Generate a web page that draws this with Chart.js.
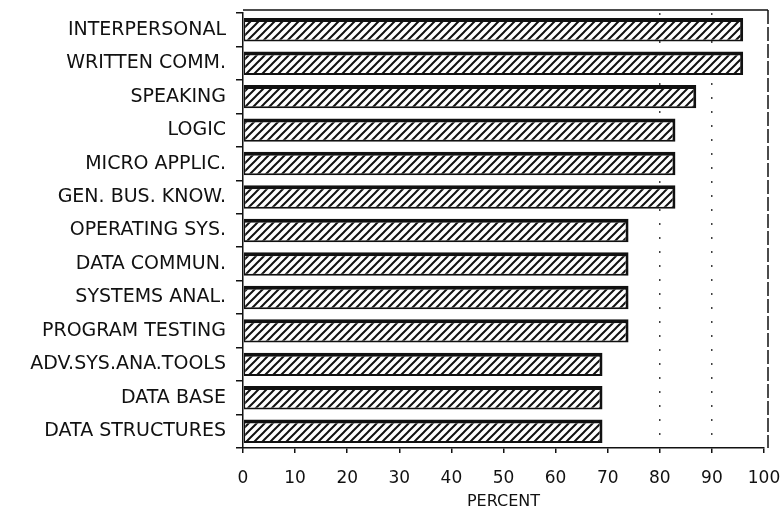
<!DOCTYPE html>
<html>
<head>
<meta charset="utf-8">
<script src="https://cdn.jsdelivr.net/npm/chart.js@4/dist/chart.umd.min.js"></script>
<style>
html,body{margin:0;padding:0;background:#fff;}
#wrap{width:784px;height:516px;}
</style>
</head>
<body>
<div id="wrap"><canvas id="c" width="784" height="516"></canvas></div>
<script>
const categories = ["INTERPERSONAL","WRITTEN COMM.","SPEAKING","LOGIC","MICRO APPLIC.","GEN. BUS. KNOW.","OPERATING SYS.","DATA COMMUN.","SYSTEMS ANAL.","PROGRAM TESTING","ADV.SYS.ANA.TOOLS","DATA BASE","DATA STRUCTURES"];
const percentValues = [96, 96, 87, 83, 83, 83, 74, 74, 74, 74, 69, 69, 69];
const xTickValues = [0,10,20,30,40,50,60,70,80,90,100];

function makeHatch(){
  const s = 8;
  const p = document.createElement('canvas');
  p.width = s; p.height = s;
  const g = p.getContext('2d');
  g.fillStyle = '#fff'; g.fillRect(0,0,s,s);
  g.strokeStyle = '#111'; g.lineWidth = 2; g.lineCap = 'butt';
  g.beginPath();
  g.moveTo(0,s); g.lineTo(s,0);
  g.moveTo(-s/2,s/2); g.lineTo(s/2,-s/2);
  g.moveTo(s/2,s*1.5); g.lineTo(s*1.5,s/2);
  g.stroke();
  return document.getElementById('c').getContext('2d').createPattern(p,'repeat');
}

const framePlugin = {
  id:'frame',
  afterDraw(chart){
    const {ctx, chartArea:a} = chart;
    ctx.save();
    ctx.strokeStyle = '#111';
    ctx.lineWidth = 1.5;
    ctx.beginPath();
    ctx.moveTo(a.left, a.top - 3); ctx.lineTo(a.right + 4, a.top - 3);
    ctx.stroke();
    ctx.setLineDash([14,3]);
    ctx.beginPath();
    ctx.moveTo(a.right + 4, a.top - 3); ctx.lineTo(a.right + 4, a.bottom);
    ctx.stroke();
    ctx.restore();
  }
};

const font = "'DejaVu Sans',sans-serif";

new Chart(document.getElementById('c'), {
  type:'bar',
  data:{
    labels: categories,
    datasets:[{
      data: percentValues,
      backgroundColor: makeHatch(),
      borderColor:'#111',
      borderWidth:{top:4,right:3,bottom:2,left:1.5},
      borderSkipped:false,
      barPercentage:0.7,
      categoryPercentage:1
    }]
  },
  options:{
    indexAxis:'y',
    responsive:false,
    animation:false,
    layout:{padding:{top:13,right:20,bottom:5,left:0}},
    plugins:{legend:{display:false},tooltip:{enabled:false}},
    scales:{
      x:{
        min:0,max:100,
        afterBuildTicks(axis){ axis.ticks = xTickValues.map(v=>({value:v})); },
        afterFit(axis){ axis.paddingLeft = 0; axis.paddingRight = 0; axis.height = 63; },
        grid:{
          drawOnChartArea:true,
          color:(c)=> (c.tick && (c.tick.value===80 || c.tick.value===90)) ? 'rgba(0,0,0,0.75)' : 'rgba(0,0,0,0)',
          lineWidth:1.5,
          tickLength:5,
          tickColor:'#111'
        },
        border:{display:true,color:'#111',width:1.5,dash:[2,12]},
        ticks:{color:'#111',font:{family:font,size:17},padding:15,maxRotation:0},
        title:{display:true,text:'PERCENT',color:'#111',font:{family:font,size:16},padding:{top:0,bottom:0}}
      },
      y:{
        offset:true,
        afterFit(axis){ axis.width = 243; axis.paddingTop = 0; axis.paddingBottom = 0; },
        grid:{offset:true,drawOnChartArea:false,tickLength:7,color:'#111',lineWidth:1.5},
        border:{display:true,color:'#111',width:1.5},
        ticks:{color:'#111',font:{family:font,size:19},padding:10,autoSkip:false}
      }
    }
  },
  plugins:[framePlugin]
});
</script>
</body>
</html>
